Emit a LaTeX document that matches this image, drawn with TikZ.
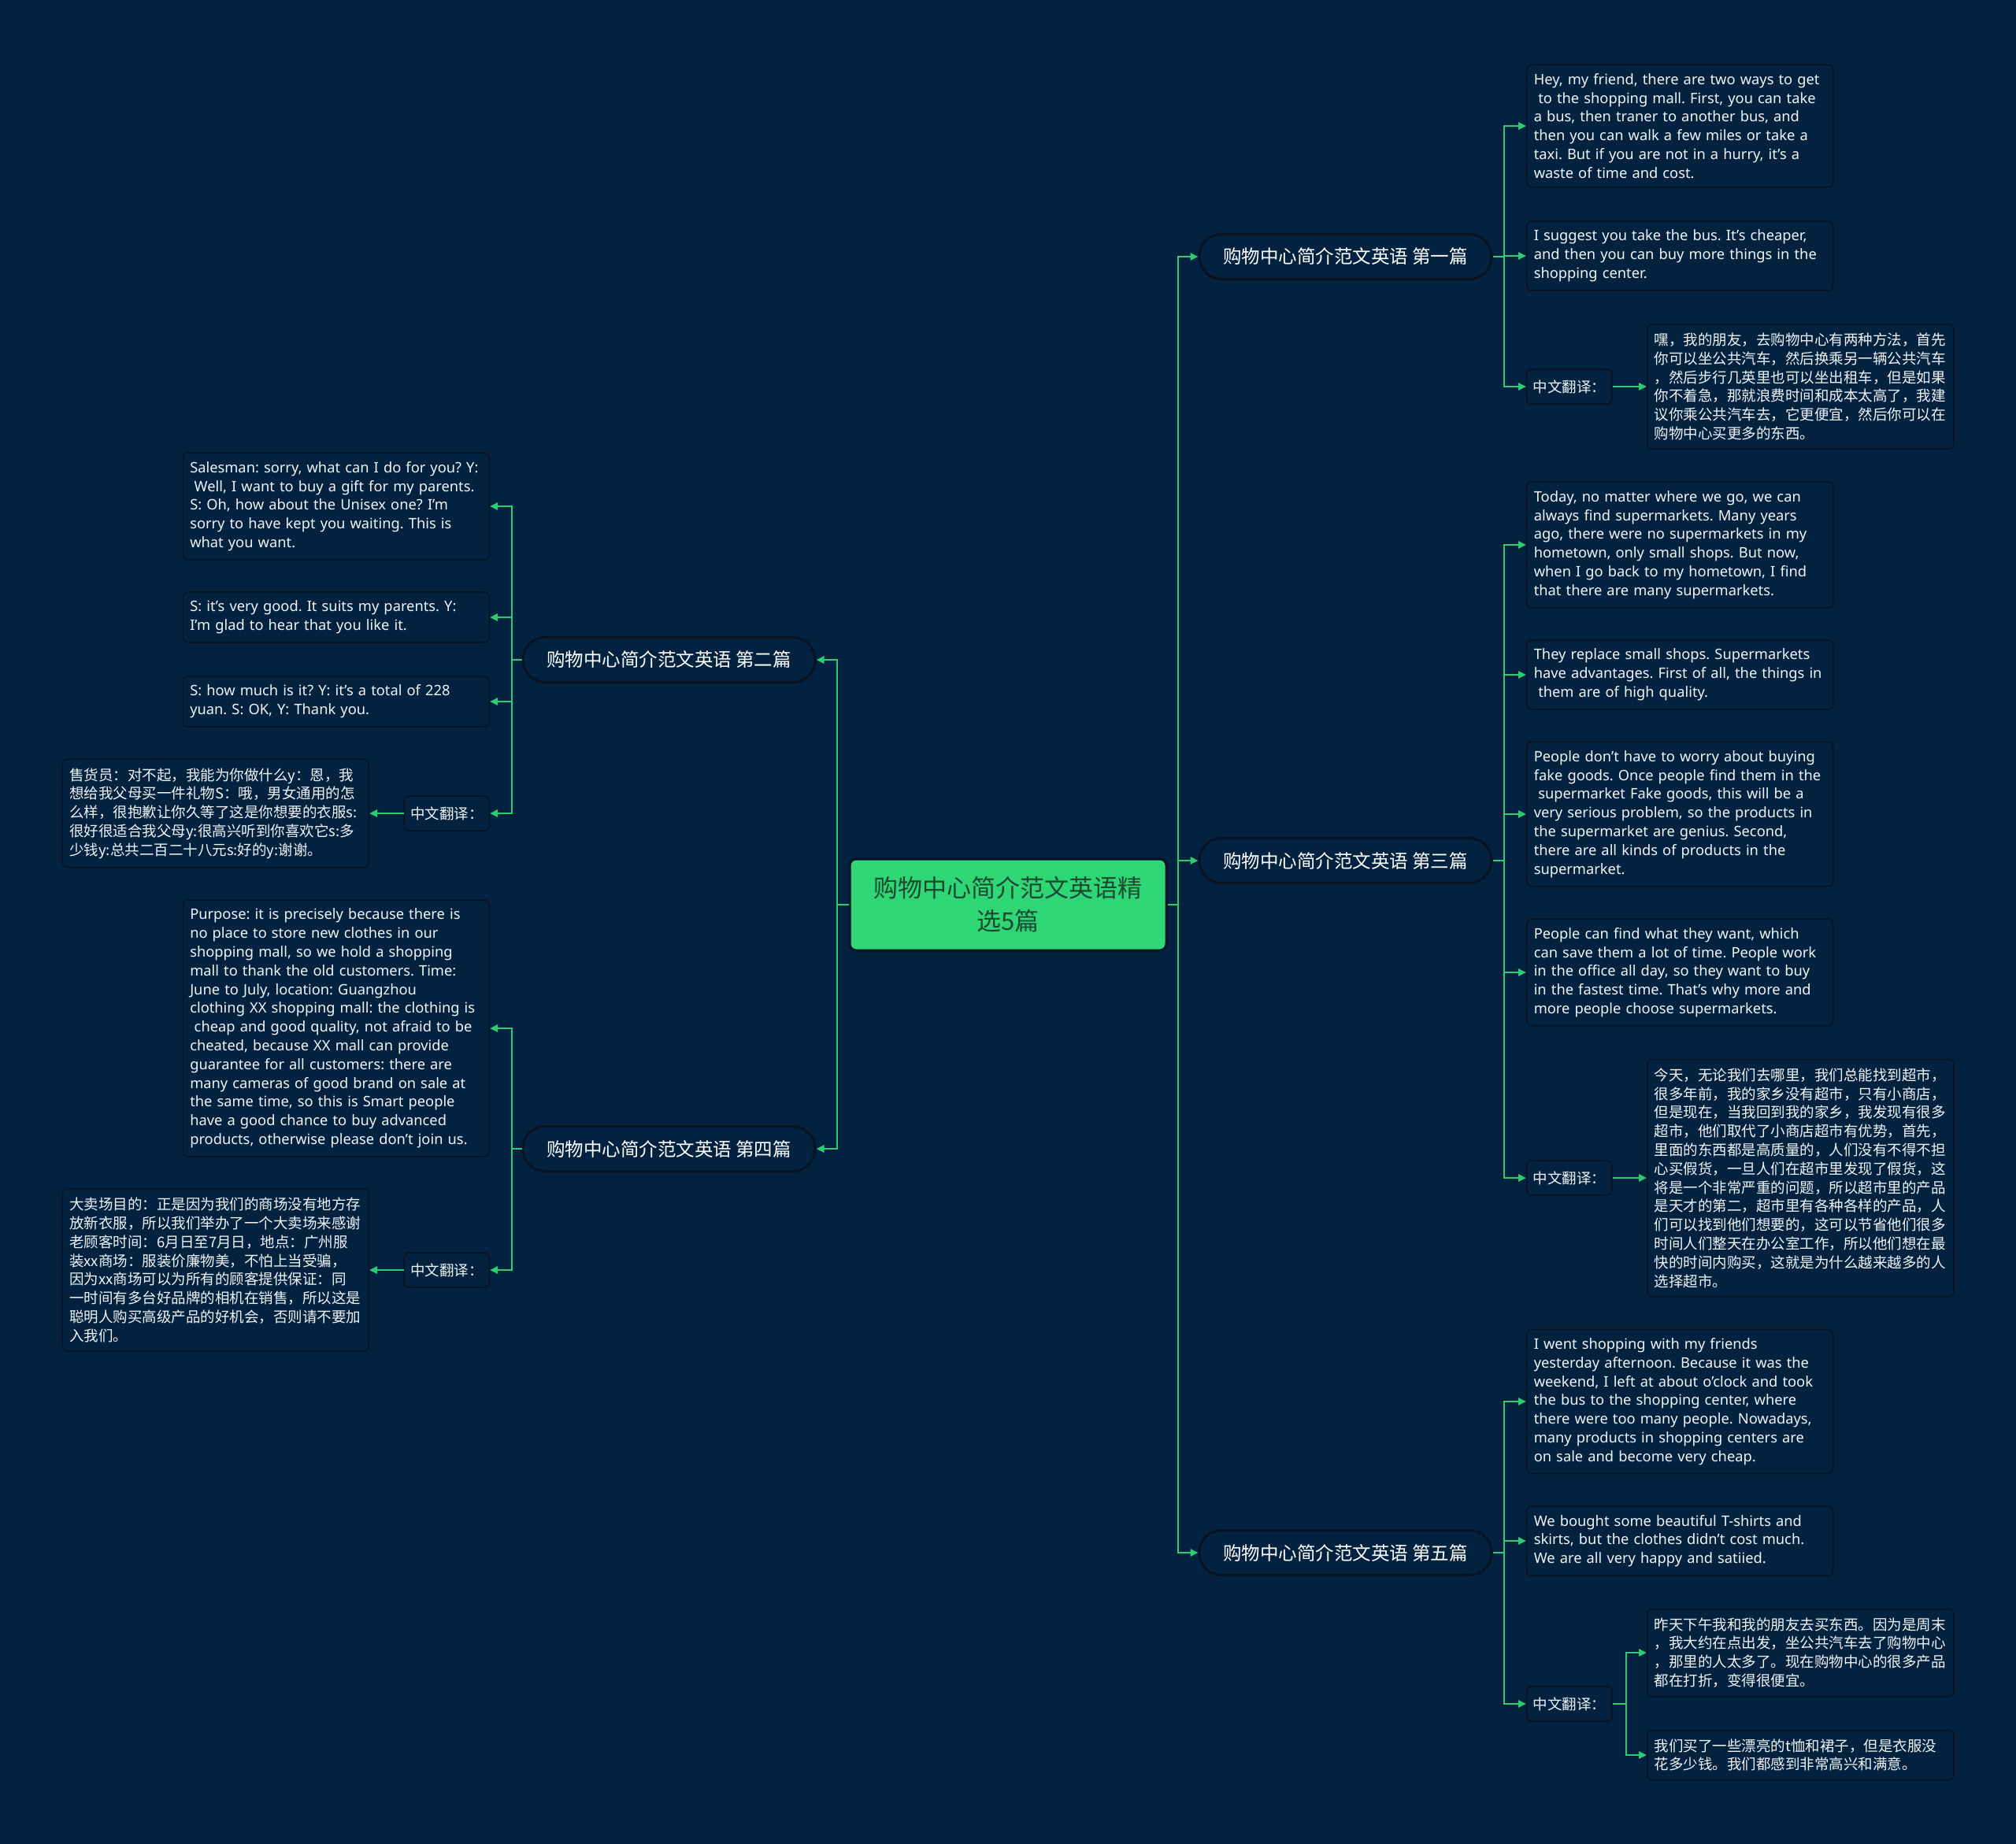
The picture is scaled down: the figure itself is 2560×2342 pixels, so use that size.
\documentclass[tikz,border=0pt]{standalone}
\usepackage{fontspec}
\setmainfont{Noto Sans}
\newfontfamily\cjk{Noto Sans CJK SC}
\usetikzlibrary{arrows.meta}
\frenchspacing

\definecolor{bgnavy}{RGB}{2,34,64}
\definecolor{linkgreen}{RGB}{46,204,113}
\definecolor{rootgreen}{RGB}{46,214,117}
\definecolor{roottext}{RGB}{26,72,48}
\definecolor{edgedark}{RGB}{8,18,32}
\definecolor{leaftext}{RGB}{242,244,246}

\tikzset{
  root/.style={draw=edgedark, line width=3pt, fill=rootgreen, rounded corners=8pt,
    minimum width=402pt, minimum height=116pt, align=center, text=roottext,
    font=\cjk\fontsize{31}{42}\selectfont},
  topic/.style={draw=edgedark, line width=3pt, fill=bgnavy, rounded corners=28pt,
    minimum width=371pt, minimum height=57pt, text=white,
    font=\cjk\fontsize{23.5}{28}\selectfont},
  leaf/.style={draw=edgedark, line width=1.5pt, fill=bgnavy, rounded corners=6pt,
    text width=371pt, inner xsep=9pt, inner ysep=11pt, align=left, text=leaftext,
    font=\fontsize{18.3}{23.8}\selectfont},
  zhleaf/.style={leaf, font=\cjk\fontsize{18.5}{23.8}\selectfont},
  tag/.style={draw=edgedark, line width=1.5pt, fill=bgnavy, rounded corners=6pt,
    minimum width=108pt, minimum height=44pt, text=leaftext,
    font=\cjk\fontsize{18.5}{22}\selectfont},
  link/.style={draw=linkgreen, line width=2.8pt},
  arr/.style={link, -{Triangle[length=10pt,width=9pt]}}
}

\begin{document}
\begin{tikzpicture}[x=1pt,y=-1pt]
    \protect\fill[bgnavy] (0,0) rectangle (2560,2342);
    \protect\node[root] (root) at (1280,1149) {购物中心简介范文英语精\\选5篇};
    \protect\node[topic] (b1) at (1708.5,326) {购物中心简介范文英语 第一篇};
    \protect\node[topic] (b2) at (849.5,838) {购物中心简介范文英语 第二篇};
    \protect\node[topic] (b3) at (1708.5,1093) {购物中心简介范文英语 第三篇};
    \protect\node[topic] (b4) at (849.5,1459) {购物中心简介范文英语 第四篇};
    \protect\node[topic] (b5) at (1708.5,1972) {购物中心简介范文英语 第五篇};

    \protect\node[leaf, anchor=west] (c1) at (1938,160) {Hey, my friend, there are two ways to get\\\hspace*{.3em}to the shopping mall. First, you can take\\a bus, then traner to another bus, and\\then you can walk a few miles or take a\\taxi. But if you are not in a hurry, it's a\\waste of time and cost.};
    \protect\node[leaf, anchor=west] (c2) at (1938,325) {I suggest you take the bus. It's cheaper,\\and then you can buy more things in the\\shopping center.};
    \protect\node[tag, anchor=west] (c3tag) at (1938,491) {中文翻译：};
    \protect\node[zhleaf, anchor=west] (c3) at (2091,491) {嘿，我的朋友，去购物中心有两种方法，首先\\你可以坐公共汽车，然后换乘另一辆公共汽车\\，然后步行几英里也可以坐出租车，但是如果\\你不着急，那就浪费时间和成本太高了，我建\\议你乘公共汽车去，它更便宜，然后你可以在\\购物中心买更多的东西。};

    \protect\node[leaf, anchor=west] (t1) at (1938,692) {Today, no matter where we go, we can\\always find supermarkets. Many years\\ago, there were no supermarkets in my\\hometown, only small shops. But now,\\when I go back to my hometown, I find\\that there are many supermarkets.};
    \protect\node[leaf, anchor=west] (t2) at (1938,857) {They replace small shops. Supermarkets\\have advantages. First of all, the things in\\\hspace*{.3em}them are of high quality.};
    \protect\node[leaf, anchor=west] (t3) at (1938,1034) {People don't have to worry about buying\\fake goods. Once people find them in the\\\hspace*{.3em}supermarket Fake goods, this will be a\\very serious problem, so the products in\\the supermarket are genius. Second,\\there are all kinds of products in the\\supermarket.};
    \protect\node[leaf, anchor=west] (t4) at (1938,1235) {People can find what they want, which\\can save them a lot of time. People work\\in the office all day, so they want to buy\\in the fastest time. That's why more and\\more people choose supermarkets.};
    \protect\node[tag, anchor=west] (t5tag) at (1938,1496) {中文翻译：};
    \protect\node[zhleaf, anchor=west] (t5) at (2091,1496) {今天，无论我们去哪里，我们总能找到超市，\\很多年前，我的家乡没有超市，只有小商店，\\但是现在，当我回到我的家乡，我发现有很多\\超市，他们取代了小商店超市有优势，首先，\\里面的东西都是高质量的，人们没有不得不担\\心买假货，一旦人们在超市里发现了假货，这\\将是一个非常严重的问题，所以超市里的产品\\是天才的第二，超市里有各种各样的产品，人\\们可以找到他们想要的，这可以节省他们很多\\时间人们整天在办公室工作，所以他们想在最\\快的时间内购买，这就是为什么越来越多的人\\选择超市。};

    \protect\node[leaf, anchor=west] (f1) at (1938,1780) {I went shopping with my friends\\yesterday afternoon. Because it was the\\weekend, I left at about o'clock and took\\the bus to the shopping center, where\\there were too many people. Nowadays,\\many products in shopping centers are\\on sale and become very cheap.};
    \protect\node[leaf, anchor=west] (f2) at (1938,1957) {We bought some beautiful T-shirts and\\skirts, but the clothes didn't cost much.\\We are all very happy and satiied.};
    \protect\node[tag, anchor=west] (f3tag) at (1938,2164) {中文翻译：};
    \protect\node[zhleaf, anchor=west] (f3a) at (2091,2099) {昨天下午我和我的朋友去买东西。因为是周末\\，我大约在点出发，坐公共汽车去了购物中心\\，那里的人太多了。现在购物中心的很多产品\\都在打折，变得很便宜。};
    \protect\node[zhleaf, anchor=west] (f3b) at (2091,2229) {我们买了一些漂亮的t恤和裙子，但是衣服没\\花多少钱。我们都感到非常高兴和满意。};

    \protect\node[leaf, anchor=east] (s1) at (622,643) {Salesman: sorry, what can I do for you? Y:\\\hspace*{.3em}Well, I want to buy a gift for my parents.\\S: Oh, how about the Unisex one? I'm\\sorry to have kept you waiting. This is\\what you want.};
    \protect\node[leaf, anchor=east] (s2) at (622,784) {S: it's very good. It suits my parents. Y:\\I'm glad to hear that you like it.};
    \protect\node[leaf, anchor=east] (s3) at (622,891) {S: how much is it? Y: it's a total of 228\\yuan. S: OK, Y: Thank you.};
    \protect\node[tag, anchor=east] (s4tag) at (622,1033) {中文翻译：};
    \protect\node[zhleaf, anchor=east] (s4) at (469,1033) {售货员：对不起，我能为你做什么y：恩，我\\想给我父母买一件礼物S：哦，男女通用的怎\\么样，很抱歉让你久等了这是你想要的衣服s:\\很好很适合我父母y:很高兴听到你喜欢它s:多\\少钱y:总共二百二十八元s:好的y:谢谢。};

    \protect\node[leaf, anchor=east] (p1) at (622,1306) {Purpose: it is precisely because there is\\no place to store new clothes in our\\shopping mall, so we hold a shopping\\mall to thank the old customers. Time:\\June to July, location: Guangzhou\\clothing XX shopping mall: the clothing is\\\hspace*{.3em}cheap and good quality, not afraid to be\\cheated, because XX mall can provide\\guarantee for all customers: there are\\many cameras of good brand on sale at\\the same time, so this is Smart people\\have a good chance to buy advanced\\products, otherwise please don't join us.};
    \protect\node[tag, anchor=east] (p2tag) at (622,1613) {中文翻译：};
    \protect\node[zhleaf, anchor=east] (p2) at (469,1613) {大卖场目的：正是因为我们的商场没有地方存\\放新衣服，所以我们举办了一个大卖场来感谢\\老顾客时间：6月日至7月日，地点：广州服\\装xx商场：服装价廉物美，不怕上当受骗，\\因为xx商场可以为所有的顾客提供保证：同\\一时间有多台好品牌的相机在销售，所以这是\\聪明人购买高级产品的好机会，否则请不要加\\入我们。};

    \protect\coordinate (rj) at (1496,1149);
    \protect\coordinate (lj) at (1063,1149);
    \protect\coordinate (h1) at (1910,326);
    \protect\coordinate (h3) at (1910,1093);
    \protect\coordinate (h5) at (1910,1972);
    \protect\coordinate (h5z) at (2065,2164);
    \protect\coordinate (h2) at (650,838);
    \protect\coordinate (h4) at (650,1459);

    \protect\draw[link] (root.east) -- (rj);
    \protect\draw[arr] (rj) |- (b1.west);
    \protect\draw[arr] (rj) |- (b3.west);
    \protect\draw[arr] (rj) |- (b5.west);
    \protect\draw[link] (root.west) -- (lj);
    \protect\draw[arr] (lj) |- (b2.east);
    \protect\draw[arr] (lj) |- (b4.east);

    \protect\draw[link] (b1.east) -- (h1);
    \protect\draw[arr] (h1) |- (c1.west);
    \protect\draw[arr] (h1) |- (c2.west);
    \protect\draw[arr] (h1) |- (c3tag.west);
    \protect\draw[arr] (c3tag.east) -- (c3.west);

    \protect\draw[link] (b3.east) -- (h3);
    \protect\draw[arr] (h3) |- (t1.west);
    \protect\draw[arr] (h3) |- (t2.west);
    \protect\draw[arr] (h3) |- (t3.west);
    \protect\draw[arr] (h3) |- (t4.west);
    \protect\draw[arr] (h3) |- (t5tag.west);
    \protect\draw[arr] (t5tag.east) -- (t5.west);

    \protect\draw[link] (b5.east) -- (h5);
    \protect\draw[arr] (h5) |- (f1.west);
    \protect\draw[arr] (h5) |- (f2.west);
    \protect\draw[arr] (h5) |- (f3tag.west);
    \protect\draw[link] (f3tag.east) -- (h5z);
    \protect\draw[arr] (h5z) |- (f3a.west);
    \protect\draw[arr] (h5z) |- (f3b.west);

    \protect\draw[link] (b2.west) -- (h2);
    \protect\draw[arr] (h2) |- (s1.east);
    \protect\draw[arr] (h2) |- (s2.east);
    \protect\draw[arr] (h2) |- (s3.east);
    \protect\draw[arr] (h2) |- (s4tag.east);
    \protect\draw[arr] (s4tag.west) -- (s4.east);

    \protect\draw[link] (b4.west) -- (h4);
    \protect\draw[arr] (h4) |- (p1.east);
    \protect\draw[arr] (h4) |- (p2tag.east);
    \protect\draw[arr] (p2tag.west) -- (p2.east);
  \end{tikzpicture}
\end{document}
